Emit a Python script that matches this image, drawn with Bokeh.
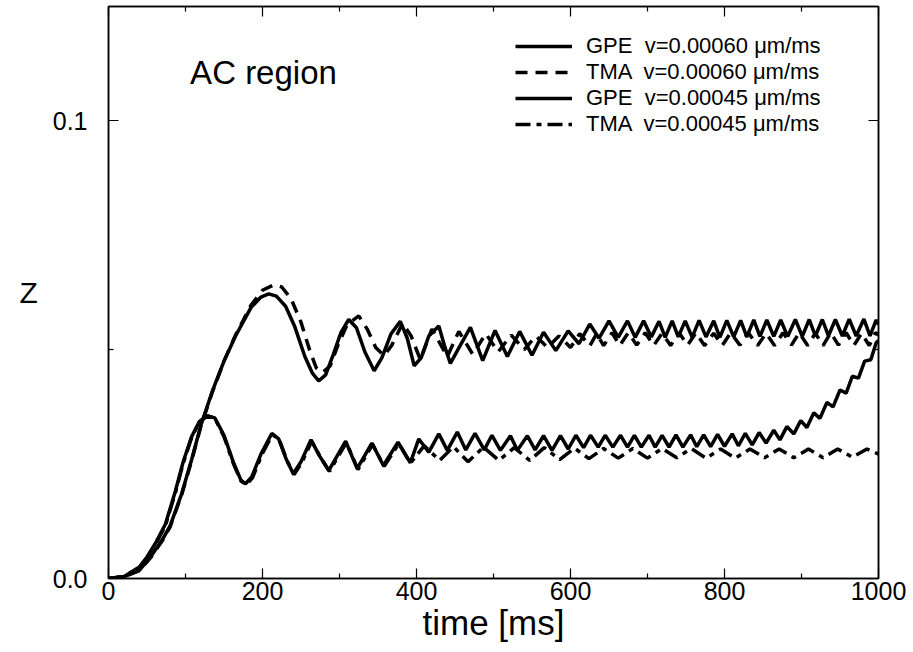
from bokeh.plotting import figure
from bokeh.models import (FixedTicker, LinearAxis, Legend, LegendItem, Label,
                          Range1d, PrintfTickFormatter)
from bokeh.embed import file_html
from bokeh.resources import INLINE

# ---------------- data ----------------
x_major = [0, 200, 400, 600, 800, 1000]
x_minor = [100, 300, 500, 700, 900]
y_major = [0.0, 0.1]
y_minor = [0.05]

labels = ["GPE  v=0.00060 \u03bcm/ms", "TMA  v=0.00060 \u03bcm/ms",
          "GPE  v=0.00045 \u03bcm/ms", "TMA  v=0.00045 \u03bcm/ms"]

# GPE v=0.00060 (solid, upper)
t_gpe60 = [0, 20, 40, 55, 70, 80, 95, 108, 120, 135, 150, 165, 185, 198, 208, 218, 230, 242,
           255, 265, 273, 282, 292, 302, 312, 322, 333, 345, 355, 367, 379, 388, 397, 406, 416,
           429, 437, 444, 457, 470, 486, 502, 518, 534, 550, 565, 581, 597, 611, 625, 637, 650,
           662, 674, 684, 695, 705, 715, 723, 732, 740, 749, 758, 767, 776, 786, 794, 803, 812,
           821, 829, 838, 846, 855, 864, 873, 882, 892, 901, 910, 918, 927, 935, 944, 953, 962,
           971, 981, 989, 997, 1000]
z_gpe60 = [0.0, 0.0004, 0.0018, 0.0048, 0.0085, 0.0115, 0.0185, 0.026, 0.0335, 0.041, 0.0475,
           0.053, 0.0592, 0.0615, 0.0622, 0.0617, 0.0595, 0.055, 0.0485, 0.0448, 0.0432, 0.0445,
           0.049, 0.0538, 0.0566, 0.0548, 0.0495, 0.0454, 0.0482, 0.0535, 0.0562, 0.0525, 0.0465,
           0.0482, 0.053, 0.0552, 0.0505, 0.047, 0.051, 0.0549, 0.0476, 0.0542, 0.0485, 0.054,
           0.0488, 0.0538, 0.0498, 0.0541, 0.0513, 0.0556, 0.0525, 0.0563, 0.0527, 0.0563, 0.0527,
           0.0563, 0.0528, 0.0562, 0.0527, 0.0563, 0.0528, 0.0563, 0.0527, 0.0564, 0.0528, 0.0563,
           0.0527, 0.0564, 0.0528, 0.0564, 0.0528, 0.0565, 0.0529, 0.0565, 0.0529, 0.0565, 0.0529,
           0.0566, 0.0529, 0.0566, 0.053, 0.0566, 0.053, 0.0566, 0.053, 0.0567, 0.053, 0.0567,
           0.053, 0.0565, 0.0555]

# TMA v=0.00060 (dashed, upper)
t_tma60 = [0, 20, 40, 55, 70, 80, 95, 108, 120, 135, 150, 165, 185, 200, 215, 225, 237, 250,
           262, 270, 278, 288, 298, 310, 325, 336, 347, 358, 368, 382, 393, 405, 420, 440, 455,
           473, 490, 506, 523, 540, 555, 570, 585, 600, 612, 625, 634, 643, 654, 664, 675, 686,
           697, 708, 719, 730, 741, 752, 763, 774, 786, 797, 808, 820, 831, 843, 854, 865, 876,
           887, 897, 908, 918, 928, 938, 948, 958, 968, 978, 988, 996, 1000]
z_tma60 = [0.0, 0.0004, 0.0017, 0.0046, 0.0083, 0.0113, 0.0183, 0.0258, 0.0333, 0.0408, 0.0475,
           0.0532, 0.0597, 0.063, 0.0642, 0.0637, 0.0612, 0.056, 0.0495, 0.046, 0.045, 0.0465,
           0.051, 0.0555, 0.0574, 0.0545, 0.0505, 0.0487, 0.051, 0.0558, 0.053, 0.0478, 0.0545,
           0.0485, 0.054, 0.049, 0.0535, 0.0495, 0.0532, 0.05, 0.053, 0.0505, 0.053, 0.0505,
           0.0535, 0.0508, 0.0535, 0.0509, 0.0537, 0.0509, 0.0537, 0.051, 0.0537, 0.0509, 0.0536,
           0.0509, 0.0537, 0.051, 0.0537, 0.0509, 0.0536, 0.0509, 0.0537, 0.051, 0.0537, 0.0509,
           0.0536, 0.0509, 0.0537, 0.051, 0.0537, 0.0509, 0.0536, 0.0509, 0.0537, 0.051, 0.0537,
           0.0509, 0.0536, 0.0509, 0.0537, 0.0532]

# GPE v=0.00045 (solid, lower)
t_gpe45 = [0, 20, 40, 50, 62, 74, 87, 97, 108, 118, 128, 138, 150, 162, 172, 178, 186, 198,
           212, 221, 231, 240, 250, 263, 274, 286, 297, 308, 323, 342, 357, 376, 392, 403, 416,
           429, 440, 453, 464, 476, 488, 498, 509, 522, 531, 544, 554, 565, 576, 587, 597, 607,
           617, 626, 636, 645, 655, 665, 674, 683, 692, 702, 710, 719, 728, 737, 746, 756, 764,
           773, 782, 791, 800, 810, 818, 827, 836, 845, 854, 864, 872, 881, 890, 899, 907, 916,
           924, 933, 941, 950, 958, 966, 974, 982, 990, 997, 1000]
z_gpe45 = [0.0, 0.0004, 0.0025, 0.0047, 0.008, 0.0119, 0.0192, 0.0255, 0.031, 0.0343, 0.0356,
           0.0351, 0.0313, 0.0255, 0.0215, 0.0207, 0.0222, 0.0272, 0.0317, 0.0305, 0.026, 0.0229,
           0.0255, 0.0303, 0.0268, 0.0236, 0.0268, 0.03, 0.024, 0.0296, 0.0247, 0.0298, 0.0253,
           0.0305, 0.0276, 0.0316, 0.028, 0.032, 0.0281, 0.0317, 0.0281, 0.0313, 0.028, 0.0312,
           0.028, 0.0312, 0.0281, 0.0312, 0.028, 0.0312, 0.0283, 0.0313, 0.0286, 0.0313, 0.0287,
           0.0313, 0.0287, 0.0313, 0.0287, 0.0313, 0.0287, 0.0313, 0.0287, 0.0313, 0.0287, 0.0314,
           0.0287, 0.0314, 0.0288, 0.0314, 0.0288, 0.0315, 0.0289, 0.0316, 0.029, 0.0317, 0.0292,
           0.0319, 0.0296, 0.0324, 0.0303, 0.0332, 0.0316, 0.0345, 0.033, 0.0362, 0.035, 0.0385,
           0.0375, 0.0412, 0.0405, 0.0442, 0.0438, 0.0475, 0.0478, 0.0515, 0.052]

# TMA v=0.00045 (dash-dot, lower)
t_tma45 = [0, 20, 40, 50, 62, 74, 87, 97, 108, 118, 128, 138, 150, 162, 172, 179, 187, 199,
           213, 222, 232, 241, 251, 264, 275, 287, 298, 309, 324, 343, 358, 377, 392, 410, 430,
           448, 467, 487, 507, 527, 547, 566, 586, 605, 624, 643, 662, 681, 700, 719, 738, 757,
           776, 795, 814, 833, 852, 871, 890, 909, 928, 947, 966, 985, 1000]
z_tma45 = [0.0, 0.0004, 0.0024, 0.0045, 0.0078, 0.0116, 0.0188, 0.0252, 0.0308, 0.0342, 0.0355,
           0.035, 0.031, 0.0252, 0.0213, 0.0205, 0.022, 0.027, 0.0315, 0.0302, 0.0257, 0.0227,
           0.0253, 0.03, 0.0266, 0.0234, 0.0266, 0.0297, 0.0238, 0.0293, 0.0245, 0.0295, 0.0252,
           0.029, 0.0258, 0.0288, 0.0255, 0.0287, 0.0258, 0.0286, 0.0258, 0.0286, 0.026, 0.0285,
           0.0262, 0.0284, 0.0263, 0.0284, 0.0263, 0.0284, 0.0264, 0.0284, 0.0263, 0.0283, 0.0263,
           0.0283, 0.0264, 0.0283, 0.0264, 0.0283, 0.0264, 0.0283, 0.0265, 0.0283, 0.0272]

FONT = "Liberation Sans"

# ---------------- figure ----------------
p = figure(width=913, height=652, x_range=Range1d(0, 1000), y_range=Range1d(0, 0.125),
           x_axis_type=None, y_axis_type=None, output_backend="svg", toolbar_location=None,
           min_border_left=108, min_border_right=35, min_border_top=6, min_border_bottom=74)
p.outline_line_color = "black"
p.outline_line_width = 1.5
p.background_fill_color = "white"
p.border_fill_color = "white"

xt = FixedTicker(ticks=x_major, minor_ticks=x_minor)
yt = FixedTicker(ticks=y_major, minor_ticks=y_minor)


def style(ax, show_labels):
    ax.axis_line_color = "black"
    ax.axis_line_width = 1.5
    ax.major_tick_line_color = "black"
    ax.minor_tick_line_color = "black"
    ax.major_tick_line_width = 1.2
    ax.minor_tick_line_width = 1.2
    ax.major_tick_out = 0
    ax.minor_tick_out = 0
    ax.major_tick_in = 10
    ax.minor_tick_in = 5
    ax.major_label_text_font = FONT
    if show_labels:
        ax.major_label_text_color = "black"
        ax.major_label_text_font_size = "25px"
    else:
        # mirrored axis: ticks only, labels are not drawn at all
        ax.major_label_text_color = None
        ax.major_label_text_font_size = "1px"
        ax.major_label_standoff = 0


xb = LinearAxis(ticker=xt, axis_label="time [ms]")
style(xb, True)
xb.major_label_standoff = 3
xb.axis_label_text_font = FONT
xb.axis_label_text_font_size = "35px"
xb.axis_label_text_font_style = "normal"
xb.axis_label_text_color = "black"
xb.axis_label_standoff = 0
p.add_layout(xb, "below")

xa = LinearAxis(ticker=xt)
style(xa, False)
p.add_layout(xa, "above")

yl = LinearAxis(ticker=yt, formatter=PrintfTickFormatter(format="%.1f"), axis_label="Z")
style(yl, True)
yl.major_label_standoff = 21
yl.axis_label_orientation = "horizontal"
yl.axis_label_text_font = FONT
yl.axis_label_text_font_size = "30px"
yl.axis_label_text_font_style = "normal"
yl.axis_label_text_color = "black"
yl.axis_label_standoff = 12
p.add_layout(yl, "left")

yr = LinearAxis(ticker=yt)
style(yr, False)
p.add_layout(yr, "right")

r1 = p.line(t_gpe60, z_gpe60, line_color="black", line_width=3.5)
r2 = p.line(t_tma60, z_tma60, line_color="black", line_width=3.5, line_dash="12 8")
r3 = p.line(t_gpe45, z_gpe45, line_color="black", line_width=3.5)
r4 = p.line(t_tma45, z_tma45, line_color="black", line_width=3.5, line_dash="15 6 5 6")

legend = Legend(items=[LegendItem(label=labels[0], renderers=[r1]),
                       LegendItem(label=labels[1], renderers=[r2]),
                       LegendItem(label=labels[2], renderers=[r3]),
                       LegendItem(label=labels[3], renderers=[r4])],
                location=(407, 441), glyph_width=57, glyph_height=24, label_height=24,
                label_standoff=14, spacing=0, padding=0, margin=0,
                label_text_font=FONT, label_text_font_size="22px", label_text_color="black",
                border_line_alpha=0, background_fill_alpha=0)
p.add_layout(legend)

p.add_layout(Label(x=106, y=0.1105, text="AC region", text_font=FONT, text_font_size="33px",
                   text_baseline="middle", text_align="left", text_color="black"))

open("out.html", "w").write(file_html(p, INLINE))
